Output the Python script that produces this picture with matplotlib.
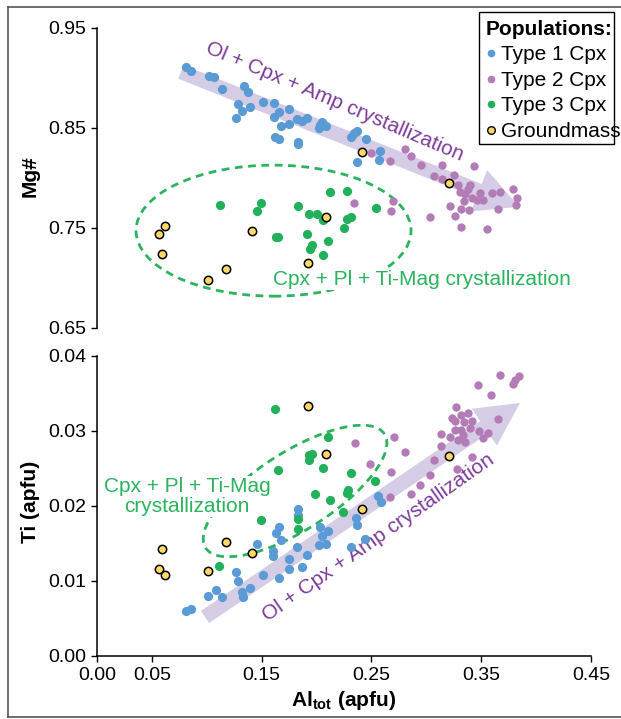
import matplotlib
matplotlib.use("Agg")
import matplotlib.pyplot as plt
import matplotlib.transforms as mtransforms
from matplotlib.patches import Ellipse, FancyArrowPatch, ArrowStyle, Rectangle
from matplotlib.lines import Line2D

plt.rcParams['font.family'] = ['Liberation Sans', 'DejaVu Sans']
plt.rcParams['mathtext.fontset'] = 'custom'
plt.rcParams['mathtext.rm'] = 'Liberation Sans'
plt.rcParams['mathtext.bf'] = 'Liberation Sans:bold'

# ---------------- data ----------------
# Type 1 Cpx
t1_al_top = [0.081, 0.086, 0.102, 0.107, 0.114, 0.134, 0.138, 0.128, 0.132, 0.139, 0.127, 0.151,
             0.161, 0.166, 0.161, 0.175, 0.168, 0.175, 0.162, 0.166, 0.183, 0.183, 0.182, 0.187,
             0.191, 0.203, 0.205, 0.209, 0.202, 0.231, 0.234, 0.237, 0.245, 0.258, 0.257, 0.237]
t1_mg = [0.911, 0.907, 0.902, 0.901, 0.889, 0.892, 0.886, 0.874, 0.867, 0.871, 0.860, 0.876,
         0.875, 0.866, 0.861, 0.869, 0.852, 0.854, 0.841, 0.839, 0.836, 0.834, 0.859, 0.857,
         0.860, 0.853, 0.856, 0.852, 0.850, 0.841, 0.845, 0.847, 0.839, 0.827, 0.818, 0.816]
t1_al_bot = [0.183, 0.183, 0.166, 0.163, 0.168, 0.146, 0.160, 0.160, 0.182, 0.191, 0.203, 0.210,
             0.205, 0.209, 0.202, 0.175, 0.175, 0.187, 0.166, 0.151, 0.127, 0.128, 0.108, 0.101,
             0.114, 0.132, 0.139, 0.133, 0.081, 0.086, 0.236, 0.237, 0.231, 0.244, 0.256, 0.259]
t1_ti = [0.0196, 0.0188, 0.0171, 0.0163, 0.0154, 0.0149, 0.0139, 0.0133, 0.0145, 0.0134, 0.0172, 0.0166,
         0.0159, 0.0149, 0.0147, 0.0129, 0.0116, 0.0118, 0.0103, 0.0107, 0.0111, 0.0099, 0.0087, 0.0079,
         0.0078, 0.0085, 0.0090, 0.0078, 0.0060, 0.0062, 0.0183, 0.0174, 0.0145, 0.0155, 0.0213, 0.0205]

# Type 2 Cpx
t2_al_top = [0.250, 0.267, 0.281, 0.286, 0.295, 0.314, 0.307, 0.314, 0.325, 0.343, 0.329, 0.331,
             0.340, 0.338, 0.335, 0.334, 0.349, 0.342, 0.346, 0.352, 0.360, 0.367, 0.379, 0.383,
             0.382, 0.365, 0.322, 0.326, 0.332, 0.339, 0.303, 0.332, 0.355, 0.268, 0.270, 0.234]
t2_mg = [0.825, 0.817, 0.829, 0.822, 0.813, 0.813, 0.802, 0.799, 0.803, 0.812, 0.793, 0.786,
         0.793, 0.789, 0.784, 0.777, 0.785, 0.780, 0.778, 0.778, 0.785, 0.786, 0.789, 0.780,
         0.773, 0.769, 0.772, 0.762, 0.769, 0.768, 0.761, 0.751, 0.749, 0.767, 0.777, 0.775]
t2_al_bot = [0.235, 0.271, 0.281, 0.249, 0.268, 0.267, 0.286, 0.294, 0.303, 0.307, 0.313, 0.313,
             0.322, 0.327, 0.323, 0.326, 0.332, 0.338, 0.342, 0.334, 0.326, 0.332, 0.340, 0.329,
             0.335, 0.333, 0.348, 0.356, 0.352, 0.347, 0.367, 0.359, 0.379, 0.384, 0.381, 0.365,
             0.342, 0.328]
t2_ti = [0.0284, 0.0292, 0.0271, 0.0255, 0.0245, 0.0212, 0.0216, 0.0227, 0.0241, 0.0261, 0.0280, 0.0296,
         0.0292, 0.0331, 0.0317, 0.0313, 0.0321, 0.0324, 0.0313, 0.0311, 0.0301, 0.0301, 0.0303, 0.0288,
         0.0285, 0.0294, 0.0299, 0.0297, 0.0290, 0.0361, 0.0374, 0.0347, 0.0362, 0.0373, 0.0368, 0.0315,
         0.0265, 0.0249]

# Type 3 Cpx
t3_al_top = [0.112, 0.149, 0.146, 0.183, 0.193, 0.200, 0.212, 0.228, 0.206, 0.231, 0.228, 0.225,
             0.254, 0.163, 0.165, 0.191, 0.196, 0.194, 0.210, 0.206]
t3_mg = [0.773, 0.775, 0.767, 0.772, 0.764, 0.764, 0.786, 0.787, 0.758, 0.761, 0.759, 0.750,
         0.770, 0.741, 0.741, 0.744, 0.733, 0.729, 0.737, 0.723]
t3_al_bot = [0.162, 0.210, 0.193, 0.196, 0.193, 0.206, 0.165, 0.231, 0.229, 0.228, 0.199, 0.212,
             0.224, 0.149, 0.183, 0.183, 0.111, 0.253]
t3_ti = [0.0329, 0.0291, 0.0268, 0.0269, 0.0261, 0.0250, 0.0247, 0.0243, 0.0221, 0.0217, 0.0215, 0.0207,
         0.0192, 0.0181, 0.0182, 0.0169, 0.0120, 0.0233]

# Groundmass
gm_al = [0.0568, 0.0589, 0.0619, 0.1014, 0.1175, 0.1414, 0.1925, 0.2083, 0.2411, 0.3209]
gm_mg = [0.744, 0.724, 0.752, 0.698, 0.709, 0.747, 0.715, 0.761, 0.826, 0.795]
gm_ti = [0.0115, 0.0142, 0.0107, 0.0113, 0.0151, 0.0137, 0.0333, 0.0269, 0.0195, 0.0266]

labels = ["Type 1 Cpx", "Type 2 Cpx", "Type 3 Cpx", "Groundmass"]
x_ticks = [0.00, 0.05, 0.15, 0.25, 0.35, 0.45]
mg_ticks = [0.65, 0.75, 0.85, 0.95]
ti_ticks = [0.00, 0.01, 0.02, 0.03, 0.04]

# ---------------- style ----------------
C_BLUE = '#5B9BD5'
C_PURP = '#B47CB7'
C_GREEN = '#22B05A'
C_YEL = '#FFD966'
C_ARROW = '#D5CCE5'
C_PTXT = '#7B3C98'
C_GTXT = '#2BB35E'

W, H = 621, 719
fig = plt.figure(figsize=(W / 100, H / 100), dpi=100)

def fx(px):
    return px / W

def fy(py):
    return 1 - py / H

left, right = 97, 591
ax1 = fig.add_axes([fx(left), fy(327.5), fx(right - left), (327.5 - 28) / H])
ax2 = fig.add_axes([fx(left), fy(655.7), fx(right - left), (655.7 - 355.7) / H])

for ax in (ax1, ax2):
    for s in ('top', 'right'):
        ax.spines[s].set_visible(False)
    ax.spines['left'].set_linewidth(1.1)
    ax.spines['bottom'].set_linewidth(1.1)
    ax.tick_params(direction='out', length=4, width=1.0, labelsize=14, pad=4)
    ax.set_xlim(0, 0.45)

ax1.spines['bottom'].set_visible(False)
ax1.set_xticks([])
ax1.set_ylim(0.65, 0.95)
ax1.set_yticks(mg_ticks)
ax1.set_yticklabels([f"{v:.2f}" for v in mg_ticks])

ax2.set_ylim(0.0, 0.04)
ax2.set_yticks(ti_ticks)
ax2.set_yticklabels([f"{v:.2f}" for v in ti_ticks])
ax2.set_xticks(x_ticks)
ax2.set_xticklabels([f"{v:.2f}" for v in x_ticks])

def inch_at(ax, cx, cy):
    return fig.dpi_scale_trans + mtransforms.ScaledTranslation(cx, cy, ax.transData)

# arrows
style = ArrowStyle.Simple(head_length=31, head_width=32, tail_width=10.5)
ax1.add_patch(FancyArrowPatch((0.0765, 0.906), (0.3844, 0.771), arrowstyle=style,
                              mutation_scale=1, color=C_ARROW, lw=0, shrinkA=0, shrinkB=0, zorder=1))
ax2.add_patch(FancyArrowPatch((0.0984, 0.00516), (0.3853, 0.0337), arrowstyle=style,
                              mutation_scale=1, color=C_ARROW, lw=0, shrinkA=0, shrinkB=0, zorder=1))

# ellipses
ax1.add_patch(Ellipse((0, 0), 2.75, 1.31, angle=0, transform=inch_at(ax1, 0.1608, 0.747),
                      fill=False, ec=C_GTXT, lw=2.0, ls=(0, (2.8, 2.0)), zorder=1.5))
ax2.add_patch(Ellipse((0, 0), 2.12, 0.78, angle=32.5, transform=inch_at(ax2, 0.1804, 0.02196),
                      fill=False, ec=C_GTXT, lw=2.0, ls=(0, (2.8, 2.0)), zorder=1.5))

# texts
ax1.text(0.2168, 0.876, "Ol + Cpx + Amp crystallization", color=C_PTXT, fontsize=15,
         rotation=-23, rotation_mode='anchor', ha='center', va='center', zorder=2)
ax2.text(0.256, 0.0158, "Ol + Cpx + Amp crystallization", color=C_PTXT, fontsize=15,
         rotation=35, rotation_mode='anchor', ha='center', va='center', zorder=2)
ax1.text(0.2956, 0.693, "Cpx + Pl + Ti-Mag crystallization", color=C_GTXT, fontsize=15,
         ha='center', va='baseline', zorder=2,
         bbox=dict(boxstyle='square,pad=0.05', fc='white', ec='none'))
ax2.text(0.082, 0.0212, "Cpx + Pl + Ti-Mag\ncrystallization", color=C_GTXT, fontsize=15,
         ha='center', va='center', multialignment='center', linespacing=1.1, zorder=2,
         bbox=dict(boxstyle='square,pad=0.05', fc='white', ec='none'))

# points
for ax, x1, y1, x2, y2, x3, y3, yg in (
        (ax1, t1_al_top, t1_mg, t2_al_top, t2_mg, t3_al_top, t3_mg, gm_mg),
        (ax2, t1_al_bot, t1_ti, t2_al_bot, t2_ti, t3_al_bot, t3_ti, gm_ti)):
    ax.scatter(x1, y1, s=44, c=C_BLUE, lw=0, zorder=3, clip_on=False)
    ax.scatter(x2, y2, s=36, c=C_PURP, lw=0, zorder=3.1, clip_on=False)
    ax.scatter(x3, y3, s=44, c=C_GREEN, lw=0, zorder=3.2, clip_on=False)
    ax.scatter(gm_al, yg, s=36, c=C_YEL, edgecolors='black', lw=1.1, zorder=3.3, clip_on=False)

# axis labels
fig.text(fx(30), fy(176), "Mg#", rotation=90, fontsize=15, fontweight='bold', ha='center', va='center')
fig.text(fx(30), fy(502), "Ti (apfu)", rotation=90, fontsize=15, fontweight='bold', ha='center', va='center')
fig.text(fx(344), fy(700), r"Al$_{\mathbf{tot}}$ (apfu)", fontsize=15, fontweight='bold', ha='center', va='center')

# legend (frame drawn separately, as in the original the text slightly overflows it)
handles = [Line2D([], [], ls='none', marker='o', ms=5.5, mfc=C_BLUE, mec='none'),
           Line2D([], [], ls='none', marker='o', ms=5.5, mfc=C_PURP, mec='none'),
           Line2D([], [], ls='none', marker='o', ms=5.5, mfc=C_GREEN, mec='none'),
           Line2D([], [], ls='none', marker='o', ms=5.5, mfc=C_YEL, mec='black', mew=1.0)]
leg = fig.legend(handles, labels, loc='upper left', bbox_to_anchor=(fx(486), fy(20)),
                 fontsize=15, title="Populations:", title_fontproperties={'weight': 'bold', 'size': 15},
                 alignment='left', frameon=False,
                 handlelength=0.5, handletextpad=0.2, borderpad=0.0, labelspacing=0.31,
                 borderaxespad=0)
fig.add_artist(Rectangle((fx(479), fy(144)), fx(614 - 479), (144 - 12) / H,
                         transform=fig.transFigure, fill=False, ec='black', lw=1.0))

# figure frame
for xs, ys in (([fx(8), 1.0], [fy(7), fy(7)]),
               ([fx(8), fx(8)], [fy(7), fy(717)]),
               ([fx(8), 1.0], [fy(717), fy(717)])):
    fig.add_artist(Line2D(xs, ys, transform=fig.transFigure, color='#555555', lw=1.2))

fig.savefig("out.png", dpi=100)
